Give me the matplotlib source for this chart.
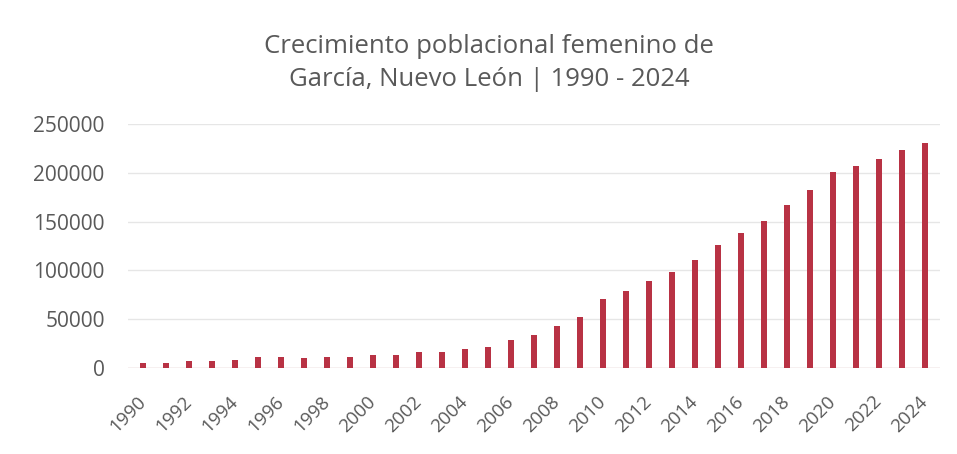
import matplotlib
matplotlib.use('Agg')
import matplotlib.pyplot as plt

# years and female population
years = list(range(1990, 2025))
poblacion = [5000, 5200, 7000, 7500, 8000, 11500, 11500, 10000, 11000, 11500,
             13000, 13500, 16500, 17000, 20000, 21800, 28500, 34000, 43000, 52500,
             70500, 79000, 89000, 98500, 110500, 126000, 138000, 151000, 167000, 182000,
             201000, 207000, 214000, 223000, 230000]
tick_years = years[::2]
titulo = 'Crecimiento poblacional femenino de\nGarcía, Nuevo León | 1990 - 2024'

plt.rcParams['font.family'] = ['Open Sans', 'DejaVu Sans']

fig = plt.figure(figsize=(9.57, 4.54), dpi=100)
ax = fig.add_axes([0.134, 0.189, 0.848, 0.538])

ax.bar(years, poblacion, width=0.24, color='#B83244', zorder=3)

ax.set_ylim(0, 250000)
ax.set_xlim(years[0] - 0.65, years[-1] + 0.65)
ax.set_yticks(range(0, 250001, 50000))
ax.set_xticks(tick_years)
ax.set_xticklabels([str(y) for y in tick_years], rotation=45, ha='right',
                   va='center', rotation_mode='anchor')
ax.tick_params(axis='y', length=0, labelsize=15, labelcolor='#595959', pad=17)
ax.tick_params(axis='x', length=0, labelsize=13.5, labelcolor='#595959', pad=22)
ax.grid(axis='y', color='#E6E6E6', linewidth=1, zorder=0)
for s in ax.spines.values():
    s.set_visible(False)
ax.axhline(0, color='#E8C9CC', linewidth=1, zorder=2)

fig.text(0.511, 0.861, titulo, ha='center', va='center', fontsize=18.5,
         color='#595959', linespacing=1.45)

fig.savefig('out.png', dpi=100)
